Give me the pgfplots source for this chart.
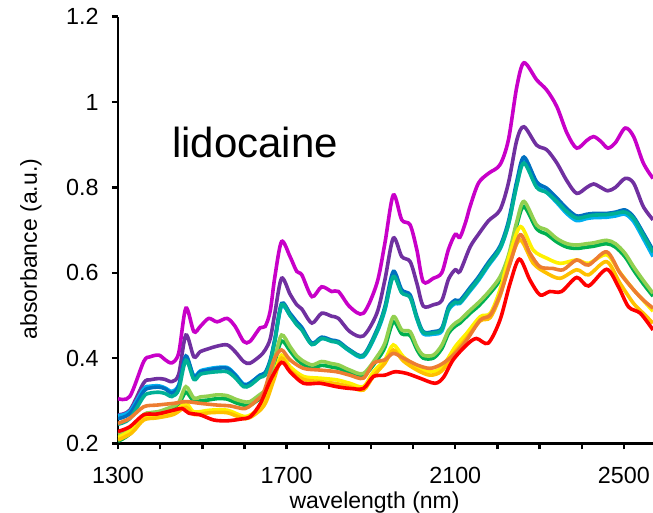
\documentclass[border=0pt]{standalone}
\usepackage{fontspec}
\setmainfont{Liberation Sans}
\usepackage{pgfplots}
\pgfplotsset{compat=1.18}
\usetikzlibrary{calc}
\definecolor{cMag}{RGB}{200,0,200}
\definecolor{cPur}{RGB}{112,48,160}
\definecolor{cDB}{RGB}{0,112,192}
\definecolor{cLB}{RGB}{0,176,240}
\definecolor{cTeal}{RGB}{0,176,150}
\definecolor{cG}{RGB}{0,176,80}
\definecolor{cLG}{RGB}{146,208,80}
\definecolor{cY}{RGB}{255,240,0}
\definecolor{cLO}{RGB}{255,192,0}
\definecolor{cO}{RGB}{237,125,49}
\definecolor{cR}{RGB}{255,0,0}
\begin{document}
\begin{tikzpicture}
\begin{axis}[
  name=ax,
  width=401.25pt, height=320.1pt, scale only axis,
  xmin=1300, xmax=2569, ymin=0.2, ymax=1.2,
  axis lines=left,
  axis line style={-, line width=2pt, black},
  xtick={1300,1700,2100,2500}, xticklabels={1300,1700,2100,2500},
  minor xtick={1400,1500,1600,1800,1900,2000,2200,2300,2400},
  ytick={0.2,0.4,0.6,0.8,1,1.2}, yticklabels={0.2,0.4,0.6,0.8,1,1.2},
  tick align=outside, major tick length=4.5pt, minor tick length=4.5pt,
  every tick/.style={black, line width=1.8pt},
  ticklabel style={font=\fontsize{17.5}{20}\selectfont},
  xticklabel style={yshift=-9.5pt},
  yticklabel style={xshift=-6.5pt},
  /pgf/number format/assume math mode=true,
  xlabel={wavelength (nm)}, ylabel={absorbance (a.u.)},
  label style={font=\fontsize{17.25}{20}\selectfont},
  xlabel style={at={(axis description cs:0.4796,-0.1534)}, anchor=base},
  ylabel style={at={(axis description cs:-0.1626,0.4557)}, anchor=center},
  every axis plot/.append style={line width=2.7pt, smooth, no markers},
]
\addplot[cMag] coordinates {(1300,.305)(1328,.310)(1361,.392)(1376,.403)(1397,.407)(1412,.396)(1428,.389)(1444,.412)(1461,.517)(1480,.462)(1495,.474)(1515,.493)(1535,.485)(1559,.493)(1578,.474)(1598,.439)(1613,.439)(1637,.471)(1649,.474)(1661,.51)(1672,.59)(1688,.673)(1708,.638)(1724,.603)(1736,.595)(1760,.544)(1783,.567)(1807,.556)(1823,.556)(1850,.520)(1882,.505)(1914,.575)(1933,.669)(1953,.782)(1973,.724)(1993,.712)(2009,.653)(2024,.579)(2048,.587)(2068,.600)(2084,.655)(2100,.690)(2111,.683)(2125,.72)(2135,.755)(2155,.810)(2179,.833)(2206,.853)(2226,.911)(2246,1.036)(2263,1.092)(2293,1.052)(2317,1.028)(2341,.989)(2365,.927)(2388,.892)(2412,.910)(2428,.919)(2445,.908)(2462,.892)(2480,.905)(2503,.939)(2523,.919)(2546,.857)(2569,.821)};
\addplot[cPur] coordinates {(1300,.267)(1328,.278)(1361,.342)(1376,.349)(1397,.352)(1412,.350)(1428,.345)(1444,.362)(1461,.454)(1480,.403)(1495,.415)(1515,.422)(1535,.428)(1559,.431)(1578,.415)(1598,.392)(1613,.388)(1637,.405)(1649,.419)(1661,.445)(1672,.505)(1688,.587)(1708,.550)(1724,.525)(1736,.515)(1760,.482)(1783,.505)(1807,.498)(1823,.493)(1850,.462)(1882,.452)(1914,.505)(1933,.583)(1953,.681)(1973,.638)(1993,.626)(2009,.575)(2024,.522)(2048,.525)(2068,.535)(2084,.585)(2100,.607)(2111,.603)(2135,.660)(2155,.690)(2179,.722)(2206,.747)(2226,.810)(2246,.911)(2263,.942)(2293,.899)(2317,.888)(2341,.857)(2365,.815)(2388,.786)(2412,.800)(2428,.808)(2445,.800)(2462,.792)(2480,.800)(2503,.821)(2523,.810)(2546,.755)(2569,.724)};
\addplot[cLB] coordinates {(1300,.265)(1328,.275)(1361,.328)(1376,.334)(1397,.335)(1412,.330)(1428,.322)(1444,.337)(1461,.400)(1480,.358)(1495,.370)(1515,.375)(1535,.378)(1559,.378)(1578,.362)(1598,.339)(1613,.342)(1637,.360)(1649,.365)(1661,.392)(1672,.440)(1688,.522)(1708,.500)(1724,.480)(1736,.468)(1760,.432)(1783,.446)(1807,.440)(1823,.436)(1850,.416)(1882,.403)(1914,.460)(1933,.512)(1953,.595)(1973,.555)(1993,.543)(2009,.492)(2024,.457)(2048,.456)(2068,.463)(2084,.512)(2100,.528)(2111,.528)(2135,.557)(2155,.582)(2179,.617)(2206,.655)(2226,.713)(2246,.808)(2263,.862)(2293,.805)(2317,.788)(2341,.764)(2365,.738)(2388,.722)(2412,.727)(2428,.729)(2459,.730)(2480,.733)(2503,.737)(2523,.720)(2546,.680)(2569,.638)};
\addplot[cDB] coordinates {(1300,.258)(1328,.270)(1361,.322)(1376,.330)(1397,.332)(1412,.328)(1428,.318)(1444,.335)(1461,.405)(1480,.356)(1495,.368)(1515,.372)(1535,.376)(1559,.376)(1578,.360)(1598,.337)(1613,.341)(1637,.360)(1649,.366)(1661,.395)(1672,.445)(1688,.528)(1708,.505)(1724,.485)(1736,.472)(1760,.435)(1783,.449)(1807,.442)(1823,.439)(1850,.419)(1882,.407)(1914,.466)(1933,.520)(1953,.603)(1973,.560)(1993,.548)(2009,.497)(2024,.462)(2048,.462)(2068,.470)(2084,.520)(2100,.536)(2111,.535)(2135,.565)(2155,.590)(2179,.625)(2206,.662)(2226,.720)(2246,.815)(2263,.871)(2293,.813)(2317,.798)(2341,.775)(2365,.750)(2388,.733)(2412,.737)(2428,.739)(2459,.739)(2480,.742)(2503,.747)(2523,.731)(2546,.693)(2569,.653)};
\addplot[cTeal] coordinates {(1300,.245)(1328,.258)(1361,.31)(1376,.318)(1397,.320)(1412,.317)(1428,.310)(1444,.326)(1461,.395)(1480,.350)(1495,.362)(1515,.366)(1535,.368)(1559,.368)(1578,.354)(1598,.333)(1613,.336)(1637,.355)(1649,.360)(1661,.39)(1672,.44)(1688,.525)(1708,.500)(1724,.478)(1736,.466)(1760,.432)(1783,.446)(1807,.439)(1823,.436)(1850,.417)(1882,.405)(1914,.462)(1933,.515)(1953,.591)(1973,.553)(1993,.542)(2009,.493)(2024,.460)(2048,.459)(2068,.467)(2084,.515)(2100,.531)(2111,.530)(2135,.560)(2155,.585)(2179,.620)(2206,.657)(2226,.713)(2246,.805)(2263,.857)(2293,.800)(2317,.788)(2341,.767)(2365,.743)(2388,.728)(2412,.732)(2428,.735)(2459,.736)(2480,.739)(2503,.742)(2523,.727)(2546,.688)(2569,.648)};
\addplot[cG] coordinates {(1300,.205)(1328,.222)(1361,.262)(1376,.268)(1397,.272)(1412,.276)(1428,.282)(1444,.291)(1461,.320)(1480,.298)(1495,.300)(1515,.302)(1535,.305)(1559,.304)(1578,.296)(1598,.290)(1613,.290)(1637,.305)(1649,.315)(1661,.342)(1672,.39)(1688,.440)(1708,.417)(1724,.397)(1736,.387)(1760,.376)(1783,.383)(1807,.379)(1823,.376)(1850,.366)(1882,.358)(1914,.395)(1933,.425)(1953,.485)(1973,.457)(1993,.453)(2009,.420)(2024,.400)(2048,.400)(2068,.422)(2084,.458)(2100,.475)(2111,.482)(2135,.505)(2155,.522)(2179,.548)(2206,.583)(2226,.633)(2246,.712)(2263,.755)(2293,.703)(2317,.690)(2341,.672)(2365,.660)(2388,.657)(2412,.660)(2428,.662)(2459,.668)(2480,.660)(2503,.637)(2523,.606)(2546,.574)(2569,.545)};
\addplot[cLG] coordinates {(1300,.222)(1328,.235)(1361,.268)(1376,.272)(1397,.275)(1412,.280)(1428,.286)(1444,.296)(1461,.333)(1480,.306)(1495,.309)(1515,.311)(1535,.314)(1559,.312)(1578,.304)(1598,.298)(1613,.298)(1637,.315)(1649,.325)(1661,.352)(1672,.40)(1688,.454)(1708,.427)(1724,.405)(1736,.395)(1760,.384)(1783,.392)(1807,.387)(1823,.384)(1850,.372)(1882,.364)(1914,.403)(1933,.435)(1953,.497)(1973,.466)(1993,.462)(2009,.427)(2024,.407)(2048,.407)(2068,.430)(2084,.465)(2100,.482)(2111,.489)(2135,.512)(2155,.530)(2179,.555)(2206,.590)(2226,.640)(2246,.720)(2263,.767)(2293,.712)(2317,.700)(2341,.680)(2365,.668)(2388,.665)(2412,.668)(2428,.670)(2459,.676)(2480,.668)(2503,.645)(2523,.614)(2546,.582)(2569,.552)};
\addplot[cY] coordinates {(1300,.214)(1333,.232)(1361,.259)(1393,.264)(1432,.274)(1461,.294)(1480,.274)(1518,.278)(1559,.278)(1602,.263)(1630,.278)(1650,.30)(1670,.36)(1688,.407)(1708,.380)(1740,.357)(1779,.353)(1819,.349)(1850,.341)(1882,.333)(1906,.368)(1933,.396)(1953,.431)(1977,.403)(2009,.380)(2040,.368)(2068,.378)(2100,.427)(2127,.458)(2159,.497)(2183,.505)(2206,.560)(2230,.646)(2255,.708)(2285,.653)(2317,.634)(2349,.622)(2388,.630)(2416,.622)(2459,.642)(2491,.600)(2523,.560)(2546,.535)(2569,.510)};
\addplot[cLO] coordinates {(1300,.208)(1333,.225)(1361,.255)(1393,.260)(1432,.268)(1461,.285)(1480,.268)(1518,.272)(1559,.272)(1602,.258)(1630,.272)(1650,.295)(1670,.35)(1688,.400)(1708,.372)(1740,.350)(1779,.345)(1819,.340)(1850,.333)(1882,.325)(1906,.358)(1933,.388)(1953,.419)(1977,.393)(2009,.372)(2040,.360)(2068,.370)(2100,.415)(2127,.447)(2159,.487)(2183,.495)(2206,.545)(2230,.625)(2254,.677)(2285,.622)(2317,.599)(2349,.587)(2388,.607)(2416,.595)(2459,.626)(2491,.575)(2523,.528)(2546,.505)(2569,.482)};
\addplot[cO] coordinates {(1300,.247)(1328,.259)(1361,.286)(1393,.290)(1432,.294)(1461,.298)(1495,.294)(1535,.290)(1566,.288)(1602,.282)(1630,.302)(1646,.321)(1670,.396)(1688,.419)(1708,.396)(1740,.376)(1779,.372)(1819,.368)(1850,.360)(1882,.353)(1906,.388)(1933,.396)(1953,.411)(1977,.400)(2009,.384)(2040,.376)(2068,.386)(2100,.411)(2127,.442)(2159,.489)(2183,.501)(2206,.548)(2230,.622)(2254,.689)(2277,.646)(2301,.614)(2332,.610)(2356,.607)(2388,.630)(2416,.618)(2459,.649)(2491,.599)(2523,.560)(2546,.536)(2569,.517)};
\addplot[cR] coordinates {(1300,.228)(1328,.239)(1361,.267)(1393,.269)(1432,.278)(1452,.282)(1468,.271)(1495,.267)(1527,.255)(1559,.253)(1590,.257)(1614,.263)(1638,.294)(1662,.349)(1688,.390)(1708,.368)(1740,.341)(1779,.341)(1819,.333)(1850,.329)(1882,.329)(1906,.357)(1933,.360)(1957,.368)(1985,.364)(2016,.353)(2052,.341)(2072,.355)(2095,.396)(2127,.431)(2150,.446)(2178,.435)(2206,.489)(2230,.575)(2252,.632)(2277,.583)(2301,.548)(2324,.556)(2352,.556)(2388,.589)(2416,.569)(2459,.608)(2487,.567)(2511,.520)(2539,.505)(2569,.466)};
\node[anchor=base west, inner sep=0pt, font=\fontsize{31.5}{36}\selectfont] at (axis cs:1428,0.869) {lidocaine};
\end{axis}
\pgfresetboundingbox
\path ($(ax.south west)+(-88.5pt,-52.1pt)$) rectangle ($(ax.north east)+(0pt,12.5pt)$);
\end{tikzpicture}
\end{document}
